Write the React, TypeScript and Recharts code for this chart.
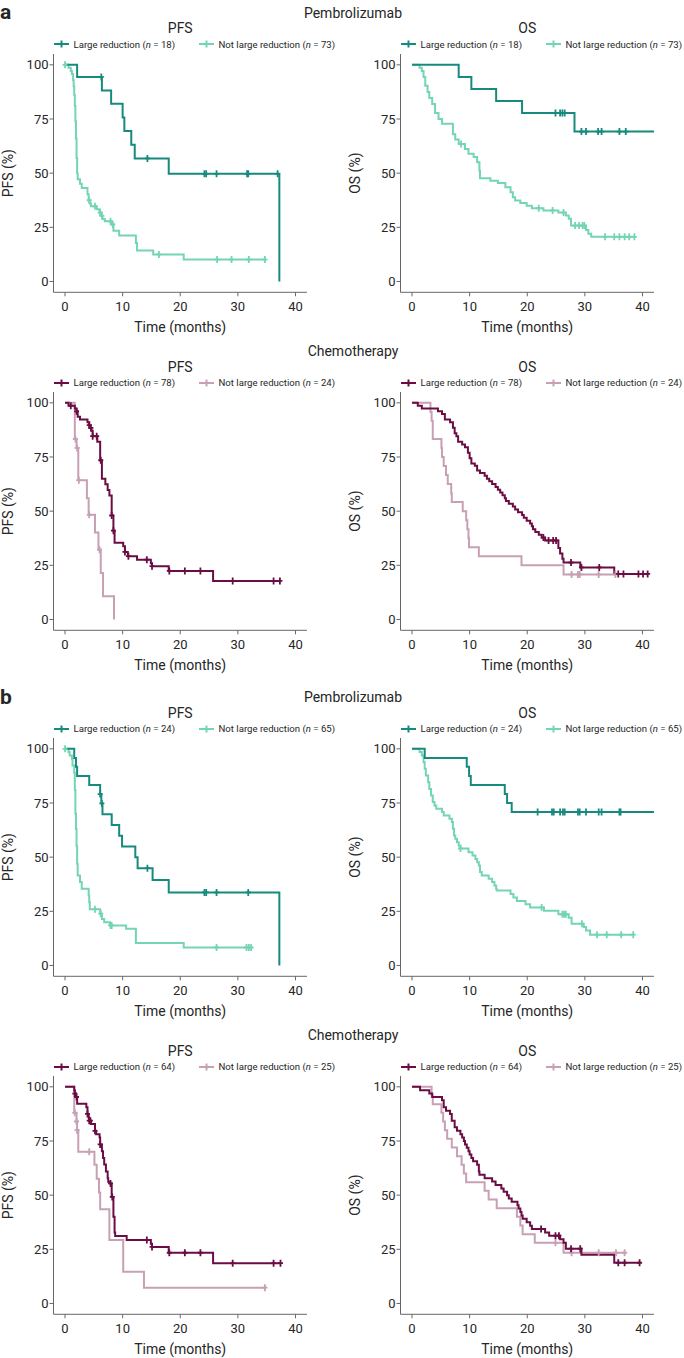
import React from 'react';
import { LineChart, Line, XAxis, YAxis } from 'recharts';

type Step = [number, number];

const xTicks = [0, 10, 20, 30, 40];
const yTicks = [0, 25, 50, 75, 100];
const groupNames = ['Large reduction', 'Not large reduction'];

// ---- a: Pembrolizumab ----
const aPemPfsLarge: Step[] = [[0, 100], [2.1, 94.4], [6.4, 88.2], [8.0, 82.0], [10.0, 75.7], [10.3, 69.4], [11.5, 63.1], [12.1, 56.8], [18.0, 49.7], [37.2, 0]];
const aPemPfsLargeCens = [6.3, 14.3, 24.2, 24.5, 26.3, 31.6, 31.8, 36.9];
const aPemPfsNot: Step[] = [[0, 100], [0.6, 98.6], [1.0, 97.2], [1.2, 95.8], [1.4, 93.0], [1.5, 90.1], [1.6, 86.0], [1.7, 81.0], [1.8, 74.0], [1.9, 66.0], [2.0, 57.0], [2.1, 50.0], [2.2, 47.2], [2.6, 45.1], [2.9, 43.1], [3.9, 40.3], [4.1, 37.5], [4.3, 36.0], [4.5, 34.7], [5.5, 33.3], [6.0, 31.8], [6.3, 30.3], [6.5, 28.8], [6.9, 27.8], [8.0, 26.3], [8.4, 23.4], [9.4, 21.2], [12.3, 17.8], [12.5, 14.3], [15.3, 12.5], [20.6, 10.1]];
const aPemPfsNotCens = [0, 4.2, 5.2, 6.1, 6.4, 7.9, 8.3, 16.3, 26.4, 28.9, 31.9, 34.7];
const aPemOsLarge: Step[] = [[0, 100], [8.1, 94.4], [10.3, 88.9], [14.6, 83.3], [19.1, 77.8], [28.2, 69.2], [42, 69.2]];
const aPemOsLargeCens = [24.9, 25.7, 26.1, 26.5, 29.4, 30.2, 32.3, 32.9, 36.0, 37.1];
const aPemOsNot: Step[] = [[0, 100], [1.3, 98.6], [1.7, 97.2], [2.0, 94.4], [2.3, 90.3], [2.7, 87.5], [3.0, 84.7], [3.5, 81.9], [4.0, 77.8], [4.6, 75.0], [5.2, 72.8], [7.1, 68.0], [7.5, 65.5], [8.1, 63.5], [9.2, 61.1], [9.8, 59.0], [10.7, 57.4], [11.3, 55.0], [11.7, 51.0], [11.8, 47.7], [13.6, 46.5], [14.9, 45.4], [16.2, 43.5], [17.1, 41.2], [17.5, 38.9], [17.9, 37.4], [18.8, 36.2], [19.9, 35.0], [20.8, 33.8], [22.8, 32.8], [25.4, 31.8], [26.7, 30.5], [27.2, 29.0], [27.6, 25.8], [30.2, 23.8], [30.6, 22.0], [31.1, 20.6]];
const aPemOsNotCens = [8.5, 22.0, 24.4, 26.3, 28.3, 29.0, 29.6, 29.9, 33.5, 35.1, 36.0, 36.9, 37.7, 38.6];

// ---- a: Chemotherapy ----
const aChePfsLarge: Step[] = [[0, 100], [0.6, 98.7], [1.7, 97.4], [2.0, 96.1], [2.2, 93.6], [2.6, 92.3], [3.9, 91.0], [4.2, 89.7], [4.3, 88.4], [4.6, 87.1], [4.8, 84.6], [5.6, 82.0], [6.1, 73.5], [6.4, 65.0], [7.0, 62.4], [7.4, 59.8], [7.7, 57.2], [8.1, 48.0], [8.4, 41.0], [8.6, 35.4], [10.1, 33.8], [10.4, 31.2], [10.9, 29.2], [12.5, 27.6], [14.9, 26.0], [15.1, 24.6], [18.0, 22.4], [25.7, 17.8]];
const aChePfsLargeCens = [1.0, 2.0, 4.2, 4.5, 4.8, 5.5, 6.2, 8.1, 8.4, 10.4, 11.0, 14.2, 15.1, 18.1, 20.8, 23.5, 29.1, 36.2, 37.3];
const aChePfsNot: Step[] = [[0, 100], [1.7, 83.3], [2.0, 79.2], [2.3, 64.3], [3.8, 56.0], [4.1, 48.3], [5.2, 40.2], [5.8, 32.2], [6.2, 21.4], [6.6, 10.7], [8.5, 0]];
const aChePfsNotCens = [1.8, 2.1, 2.4, 4.2, 6.0];
const aCheOsLarge: Step[] = [[0, 100], [1.0, 98.7], [1.7, 97.4], [4.5, 96.1], [5.2, 94.8], [5.7, 92.3], [6.6, 91.0], [7.1, 88.5], [7.4, 86.0], [7.7, 84.6], [8.0, 82.0], [8.7, 80.8], [9.2, 79.5], [9.7, 77.0], [10.0, 74.4], [10.3, 72.0], [10.9, 71.0], [11.3, 68.8], [11.8, 67.6], [12.6, 66.3], [13.0, 65.0], [13.4, 63.8], [13.9, 62.5], [14.5, 61.2], [14.9, 59.9], [15.3, 58.6], [15.7, 57.3], [16.1, 56.0], [16.3, 54.7], [16.8, 53.4], [17.5, 52.1], [17.9, 50.8], [18.4, 49.5], [19.1, 48.2], [19.4, 46.9], [19.9, 45.6], [20.5, 44.3], [20.8, 43.0], [21.0, 41.7], [21.4, 40.4], [22.0, 39.1], [22.5, 37.8], [23.1, 36.5], [25.4, 33.0], [25.7, 30.5], [26.1, 28.0], [26.3, 26.3], [29.2, 24.0], [35.1, 21.0]];
const aCheOsLargeCens = [22.8, 23.7, 24.5, 25.0, 27.6, 29.4, 32.5, 35.8, 36.7, 39.3, 40.1, 40.9];
const aCheOsNot: Step[] = [[0, 100], [3.2, 95.8], [3.4, 91.7], [3.6, 83.3], [5.1, 79.2], [5.2, 75.0], [5.5, 70.8], [5.9, 66.7], [6.2, 62.5], [6.8, 58.3], [6.9, 54.2], [8.8, 50.0], [9.4, 45.8], [9.6, 41.7], [9.8, 37.5], [9.9, 33.3], [11.6, 29.2], [19.0, 25.0], [26.3, 20.8]];
const aCheOsNotCens = [27.7, 28.8, 29.1, 32.4, 35.3];

// ---- b: Pembrolizumab ----
const bPemPfsLarge: Step[] = [[0, 100], [1.6, 95.8], [1.9, 91.7], [2.1, 87.5], [4.2, 83.3], [6.1, 79.1], [6.3, 74.8], [6.5, 69.8], [8.1, 64.8], [9.4, 59.9], [9.9, 54.9], [12.2, 49.9], [12.6, 44.9], [15.2, 39.4], [18.0, 33.7], [37.2, 0]];
const bPemPfsLargeCens = [6.1, 6.4, 14.3, 24.2, 24.5, 26.3, 31.8];
const bPemPfsNot: Step[] = [[0, 100], [0.6, 98.5], [0.8, 96.9], [1.2, 95.4], [1.3, 92.3], [1.6, 89.0], [1.7, 81.0], [1.8, 70.0], [1.9, 63.0], [2.0, 55.0], [2.1, 47.0], [2.2, 41.5], [2.6, 38.5], [2.9, 35.4], [4.1, 32.3], [4.2, 29.2], [4.3, 26.0], [6.1, 23.9], [6.4, 21.5], [6.8, 20.0], [7.8, 18.5], [10.6, 16.9], [12.3, 10.4], [20.6, 8.3]];
const bPemPfsNotCens = [0, 5.2, 6.2, 7.9, 8.1, 26.3, 31.5, 31.9, 32.3];
const bPemOsLarge: Step[] = [[0, 100], [2.2, 95.8], [9.5, 91.7], [9.9, 87.5], [10.2, 83.3], [16.1, 79.2], [16.5, 75.0], [17.3, 70.8], [42, 70.8]];
const bPemOsLargeCens = [21.8, 24.3, 24.6, 25.7, 26.2, 26.5, 28.8, 29.1, 30.2, 32.4, 32.9, 36.0, 36.2];
const bPemOsNot: Step[] = [[0, 100], [1.3, 98.5], [1.7, 96.9], [2.0, 93.8], [2.2, 90.8], [2.4, 87.7], [2.8, 84.6], [3.0, 81.5], [3.3, 78.5], [3.6, 75.4], [3.9, 73.8], [4.2, 72.3], [5.2, 70.8], [5.5, 69.2], [6.5, 67.7], [6.9, 66.2], [7.1, 63.1], [7.3, 60.0], [7.5, 58.5], [7.8, 56.9], [8.1, 55.4], [8.4, 54.0], [9.8, 52.3], [10.5, 50.8], [11.0, 49.2], [11.3, 47.7], [11.6, 46.2], [11.8, 43.1], [12.1, 41.5], [13.3, 40.0], [13.9, 38.5], [14.3, 36.9], [14.6, 35.4], [14.7, 34.6], [17.1, 33.0], [17.6, 31.4], [18.2, 29.8], [19.7, 28.3], [20.5, 26.8], [22.9, 25.2], [25.4, 23.6], [27.2, 22.0], [27.7, 19.3], [29.8, 17.7], [30.2, 16.1], [30.9, 14.2]];
const bPemOsNotCens = [8.4, 22.5, 26.1, 26.4, 26.7, 29.5, 32.1, 33.8, 36.3, 38.4];

// ---- b: Chemotherapy ----
const bChePfsLarge: Step[] = [[0, 100], [1.6, 98.4], [1.7, 96.9], [1.9, 95.3], [2.1, 92.2], [3.7, 90.6], [3.9, 87.5], [4.1, 85.9], [4.2, 84.4], [4.5, 82.8], [5.2, 79.7], [5.4, 78.1], [6.0, 76.6], [6.1, 73.4], [6.4, 70.3], [6.6, 67.2], [6.8, 64.1], [7.1, 60.9], [7.4, 57.8], [7.5, 56.2], [7.8, 55.4], [8.1, 49.2], [8.4, 40.0], [8.6, 32.8], [8.7, 31.1], [10.7, 29.3], [14.9, 27.6], [15.1, 26.1], [18.0, 23.4], [25.7, 18.6]];
const bChePfsLargeCens = [1.7, 2.0, 3.9, 4.2, 4.4, 5.2, 6.1, 7.9, 8.2, 14.2, 15.1, 18.1, 20.8, 23.5, 29.1, 36.2, 37.4];
const bChePfsNot: Step[] = [[0, 100], [1.6, 88.0], [2.0, 84.0], [2.1, 80.0], [2.3, 70.0], [5.1, 64.0], [5.5, 57.6], [5.9, 51.2], [6.1, 43.5], [7.7, 29.3], [10.1, 14.6], [13.7, 7.3]];
const bChePfsNotCens = [1.7, 2.0, 2.1, 4.2, 34.7];
const bCheOsLarge: Step[] = [[0, 100], [1.4, 98.4], [3.0, 96.9], [3.5, 95.3], [5.2, 93.8], [5.5, 90.6], [5.9, 89.0], [6.6, 87.5], [6.9, 84.4], [7.4, 81.3], [7.8, 79.7], [8.4, 78.1], [8.7, 76.6], [9.0, 75.0], [9.2, 73.4], [9.5, 71.9], [9.8, 70.3], [10.0, 68.8], [10.3, 67.2], [10.6, 65.6], [11.3, 64.0], [11.6, 60.9], [11.7, 59.4], [12.6, 57.8], [13.9, 56.3], [14.5, 54.7], [15.5, 53.1], [15.9, 51.6], [16.5, 50.0], [16.8, 48.4], [17.3, 46.9], [18.3, 45.3], [18.5, 43.8], [18.8, 42.2], [19.0, 40.6], [19.2, 39.1], [19.9, 37.5], [20.5, 35.9], [20.8, 34.4], [23.1, 32.8], [23.8, 31.3], [25.7, 29.6], [26.3, 28.0], [26.7, 25.3], [29.4, 22.5], [35.1, 18.8]];
const bCheOsLargeCens = [22.4, 24.9, 25.5, 27.6, 29.2, 35.8, 36.9, 39.5];
const bCheOsNot: Step[] = [[0, 100], [3.4, 96.0], [3.6, 92.0], [5.1, 88.0], [5.4, 84.0], [5.7, 80.0], [6.1, 76.0], [6.9, 72.0], [7.8, 68.0], [8.6, 64.0], [9.0, 60.0], [9.4, 56.0], [12.6, 52.0], [13.3, 48.0], [14.7, 44.0], [18.2, 40.0], [18.8, 36.0], [19.2, 32.0], [21.3, 28.0], [26.3, 23.4]];
const bCheOsNotCens = [24.9, 27.7, 32.4, 35.4, 36.9];

const teal = { large: '#178a7e', small: '#74d5b4' };
const plum = { large: '#6b0d44', small: '#c7a0b4' };

function km(steps: Step[], cens: number[]) {
    const valueAt = (t: number) => {
        let v = steps[0][1];
        for (const [st, sv] of steps) if (st <= t) v = sv;
        return v;
    };
    const pts = steps.map(([t, s]) => ({ t, s, c: false }));
    cens.forEach(t => pts.push({ t, s: valueAt(t), c: true }));
    pts.sort((a, b) => a.t - b.t || Number(a.c) - Number(b.c));
    return pts;
}

const panels = [
    { row: 0, col: 0, title: 'PFS', n: [18, 73], pal: teal, large: km(aPemPfsLarge, aPemPfsLargeCens), small: km(aPemPfsNot, aPemPfsNotCens) },
    { row: 0, col: 1, title: 'OS', n: [18, 73], pal: teal, large: km(aPemOsLarge, aPemOsLargeCens), small: km(aPemOsNot, aPemOsNotCens) },
    { row: 1, col: 0, title: 'PFS', n: [78, 24], pal: plum, large: km(aChePfsLarge, aChePfsLargeCens), small: km(aChePfsNot, aChePfsNotCens) },
    { row: 1, col: 1, title: 'OS', n: [78, 24], pal: plum, large: km(aCheOsLarge, aCheOsLargeCens), small: km(aCheOsNot, aCheOsNotCens) },
    { row: 2, col: 0, title: 'PFS', n: [24, 65], pal: teal, large: km(bPemPfsLarge, bPemPfsLargeCens), small: km(bPemPfsNot, bPemPfsNotCens) },
    { row: 2, col: 1, title: 'OS', n: [24, 65], pal: teal, large: km(bPemOsLarge, bPemOsLargeCens), small: km(bPemOsNot, bPemOsNotCens) },
    { row: 3, col: 0, title: 'PFS', n: [64, 25], pal: plum, large: km(bChePfsLarge, bChePfsLargeCens), small: km(bChePfsNot, bChePfsNotCens) },
    { row: 3, col: 1, title: 'OS', n: [64, 25], pal: plum, large: km(bCheOsLarge, bCheOsLargeCens), small: km(bCheOsNot, bCheOsNotCens) },
];

const headers = [
    { row: 0, text: 'Pembrolizumab', letter: 'a' },
    { row: 1, text: 'Chemotherapy', letter: '' },
    { row: 2, text: 'Pembrolizumab', letter: 'b' },
    { row: 3, text: 'Chemotherapy', letter: '' },
];

// layout
const rowTops = [53.5, 392.2, 738.2, 1076.2];
const colLefts = [53.5, 400.5];
const PLOT_W = 253.5;
const PLOT_H = 238.3;
const M_TOP = 10;
const M_LEFT = 3.5;
const M_RIGHT = 20;
const M_BOTTOM = 6;
const Y_W = 50;
const X_H = 40;
const AXIS = '#666';
const INK = '#262626';

const censorDot = (color: string) => (props: any) => {
    const { cx, cy, payload, index } = props;
    if (!payload || !payload.c || cx == null || cy == null) return <g key={`d${index}`} />;
    return (
        <path
            key={`d${index}`}
            d={`M${cx},${cy - 3.5}V${cy + 3.5}M${cx - 2.5},${cy}H${cx + 2.5}`}
            stroke={color}
            strokeWidth={1.8}
            fill="none"
        />
    );
};

function Label({ x, y, size, children, weight = 400, center = true }: any) {
    const lh = Math.round(size * 1.3);
    return (
        <div
            style={{
                position: 'absolute',
                left: center ? x - 150 : x,
                width: center ? 300 : undefined,
                top: y - lh / 2,
                height: lh,
                lineHeight: `${lh}px`,
                fontSize: size,
                fontWeight: weight,
                textAlign: center ? 'center' : 'left',
                whiteSpace: 'nowrap',
                color: INK,
            }}
        >
            {children}
        </div>
    );
}

function LegendItem({ x, y, color, name, n }: any) {
    return (
        <div style={{ position: 'absolute', left: x, top: y - 7, height: 14, display: 'flex', alignItems: 'center', whiteSpace: 'nowrap' }}>
            <svg width={15} height={10} style={{ marginRight: 5 }}>
                <line x1={0} y1={5} x2={15} y2={5} stroke={color} strokeWidth={2} />
                <line x1={7.5} y1={1.5} x2={7.5} y2={8.5} stroke={color} strokeWidth={2} />
            </svg>
            <span style={{ fontSize: 9.6, color: INK }}>
                {name} (<i>n</i> = {n})
            </span>
        </div>
    );
}

function KMPanel({ p }: any) {
    const plotLeft = colLefts[p.col];
    const plotTop = rowTops[p.row];
    const yLabel = `${p.title} (%)`;
    return (
        <>
            <Label x={plotLeft + PLOT_W / 2} y={plotTop - 25.5} size={14}>{p.title}</Label>
            <LegendItem x={plotLeft} y={plotTop - 9.5} color={p.pal.large} name={groupNames[0]} n={p.n[0]} />
            <LegendItem x={plotLeft + 145} y={plotTop - 9.5} color={p.pal.small} name={groupNames[1]} n={p.n[1]} />
            <div style={{ position: 'absolute', left: plotLeft - Y_W - M_LEFT, top: plotTop - M_TOP }}>
                <LineChart
                    width={M_LEFT + Y_W + PLOT_W + M_RIGHT}
                    height={M_TOP + PLOT_H + X_H + M_BOTTOM}
                    margin={{ top: M_TOP, right: M_RIGHT, left: M_LEFT, bottom: M_BOTTOM }}
                >
                    <XAxis
                        type="number"
                        dataKey="t"
                        domain={[-2, 42]}
                        ticks={xTicks}
                        allowDataOverflow
                        height={X_H}
                        stroke={AXIS}
                        tickSize={4}
                        tickMargin={5}
                        tick={{ fill: INK, fontSize: 13 }}
                        label={{ value: 'Time (months)', position: 'insideBottom', offset: 0, fill: INK, fontSize: 14 }}
                    />
                    <YAxis
                        type="number"
                        dataKey="s"
                        domain={[-5, 105]}
                        ticks={yTicks}
                        allowDataOverflow
                        width={Y_W}
                        stroke={AXIS}
                        tickSize={4}
                        tickMargin={1}
                        tick={{ fill: INK, fontSize: 13 }}
                        label={{ value: yLabel, angle: -90, position: 'insideLeft', offset: 4.5, fill: INK, fontSize: 14, style: { textAnchor: 'middle' } }}
                    />
                    <Line
                        data={p.small}
                        dataKey="s"
                        name={groupNames[1]}
                        type="stepAfter"
                        stroke={p.pal.small}
                        strokeWidth={2}
                        dot={censorDot(p.pal.small)}
                        activeDot={false}
                        isAnimationActive={false}
                    />
                    <Line
                        data={p.large}
                        dataKey="s"
                        name={groupNames[0]}
                        type="stepAfter"
                        stroke={p.pal.large}
                        strokeWidth={2}
                        dot={censorDot(p.pal.large)}
                        activeDot={false}
                        isAnimationActive={false}
                    />
                </LineChart>
            </div>
        </>
    );
}

export default function App() {
    return (
        <div
            style={{
                position: 'absolute',
                left: 0,
                top: 0,
                width: 684,
                height: 1358,
                background: '#fff',
                fontFamily: 'Roboto, "Noto Sans", sans-serif',
                overflow: 'hidden',
            }}
        >
            {headers.map(h => (
                <React.Fragment key={h.row}>
                    <Label x={353} y={rowTops[h.row] - 41} size={14}>{h.text}</Label>
                    {h.letter && (
                        <Label x={0} y={rowTops[h.row] - 41} size={21} weight={700} center={false}>{h.letter}</Label>
                    )}
                </React.Fragment>
            ))}
            {panels.map((p, i) => (
                <KMPanel key={i} p={p} />
            ))}
        </div>
    );
}
